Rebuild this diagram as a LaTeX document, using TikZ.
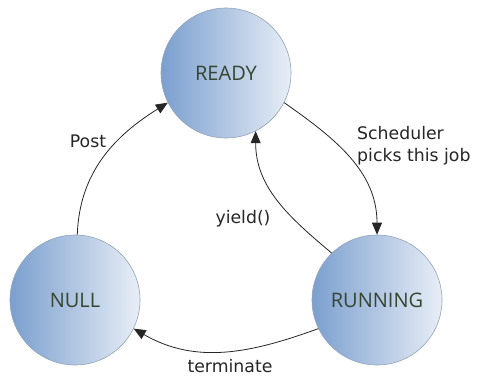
\documentclass[tikz,border=0pt]{standalone}
\usepackage{fontspec}
\setmainfont{DejaVu Sans}
\newfontfamily\statefont{Open Sans}
\usetikzlibrary{arrows.meta}
\definecolor{stateleft}{HTML}{7B9FCF}
\definecolor{stateright}{HTML}{E8EEF6}
\definecolor{stateedge}{HTML}{93A3B8}
\definecolor{statetext}{HTML}{36452F}
\tikzset{
  state/.style={circle, minimum size=130pt, inner sep=0pt, draw=stateedge, line width=0.6pt,
    left color=stateleft, right color=stateright, shading angle=90,
    font=\statefont\fontsize{20}{24}\selectfont, text=statetext},
  trans/.style={draw=black!85, line width=0.8pt, -{Triangle[length=12pt,width=10pt]}},
  lbl/.style={font=\fontsize{17.3}{22}\selectfont, text=black!85, inner sep=0pt}
}
\begin{document}
\begin{tikzpicture}[x=1pt,y=1pt]
  \useasboundingbox (0,0) rectangle (478,376);
  \fill[white] (0,0) rectangle (478,376);

  % the three process states
  \node[state] (ready) at (226,303) {READY};
  \node[state] (null) at (75,76) {NULL};
  \node[state] (running) at (377,76) {RUNNING};

  % transitions
  \draw[trans] (null.88) to[out=88, in=212] (ready.207);
  \draw[trans] (ready.333) to[out=-35, in=90] (running.90);
  \draw[trans] (running.134) to[out=140, in=270] (ready.297);
  \draw[trans] (running.206) to[out=200, in=330] (null.334);

  % transition labels
  \node[lbl] (lpost) at (88,235) {Post};
  \node[lbl, anchor=west, align=left] (lsched) at (357,230) {Scheduler\\picks this job};
  \node[lbl] (lyield) at (243,157) {yield()};
  \node[lbl] (lterm) at (230,10) {terminate};
\end{tikzpicture}
\end{document}
